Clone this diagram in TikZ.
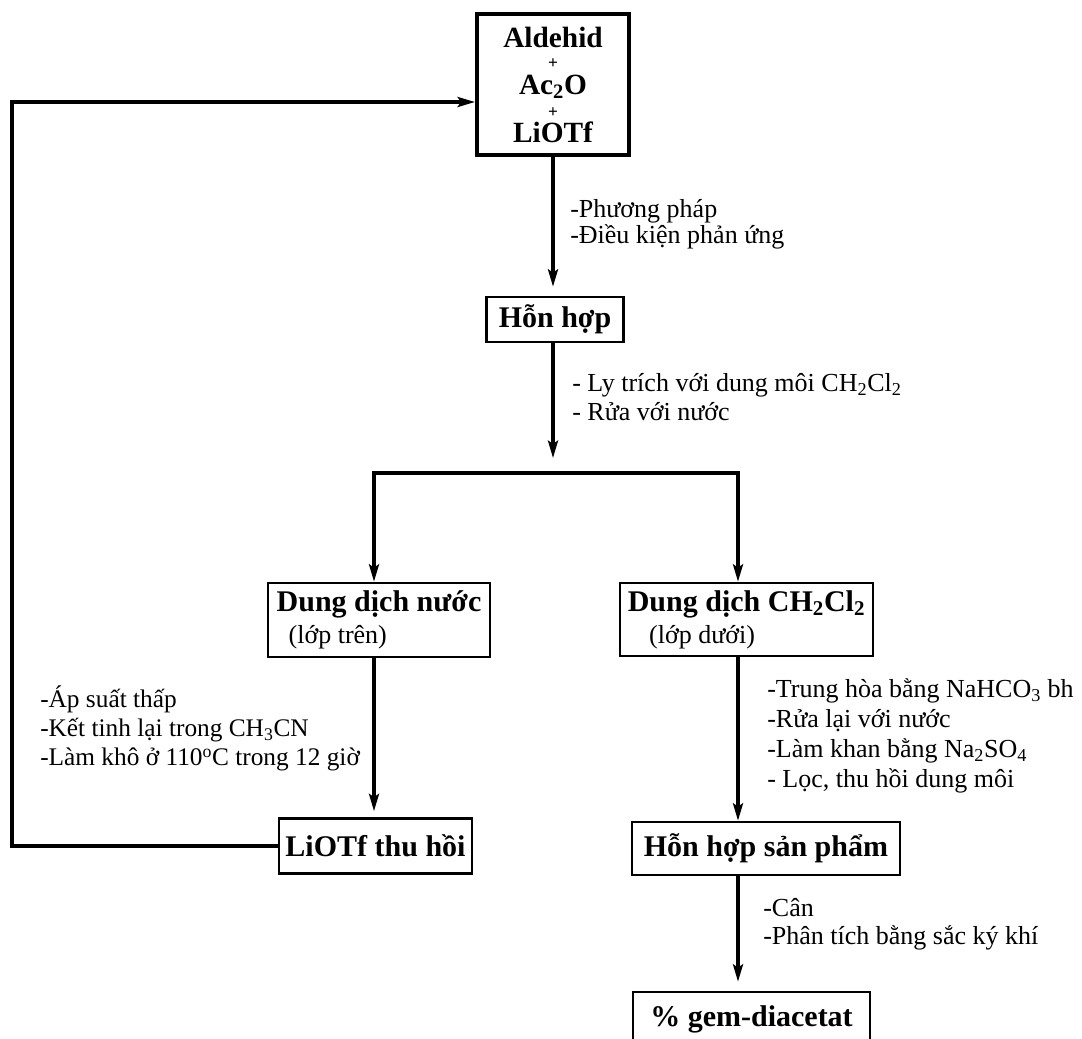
\documentclass[tikz,border=0pt]{standalone}
\usepackage{fontspec}
\setmainfont{Liberation Serif}
\usetikzlibrary{arrows.meta, positioning}

\newcommand\lstrut{\rule{0pt}{18pt}}
\newcommand\plusrow{{\fontsize{13}{17.6}\selectfont +}}

\begin{document}
\begin{tikzpicture}[
  x=0.75pt, y=-0.75pt,
  box/.style={draw, line width=2pt, inner sep=0pt, align=center,
              font=\fontsize{22.5}{24}\selectfont\bfseries},
  note/.style={inner sep=0pt, anchor=north west, align=left,
               font=\fontsize{19.5}{22}\selectfont},
  arr/.style={-{Stealth[length=13pt, width=7.5pt, inset=2.5pt]}, line width=2.4pt},
  >=Stealth,
]
  \useasboundingbox (0,0) rectangle (1082,1039);

  % boxes
  \node[box, line width=3pt, minimum width=114pt, minimum height=105.75pt,
        font=\fontsize{22}{17.2}\selectfont\bfseries] (top) at (553,84.5)
    {Aldehid\\[-1pt]\plusrow\\[2pt]Ac\textsubscript{2}O\\\plusrow\\[1.5pt]LiOTf};
  \node[box, minimum width=102.75pt, minimum height=33.75pt] (mix) at (555,319.5) {Hỗn hợp};
  \node[box, align=left, minimum width=166.5pt, minimum height=55.5pt,
        font=\fontsize{19.5}{24}\selectfont] (aq) at (379,620)
    {{\fontsize{22.5}{24}\selectfont\bfseries Dung dịch nước}\\\hspace*{9pt}(lớp trên)};
  \node[box, align=left, minimum width=189.75pt, minimum height=54.75pt,
        font=\fontsize{19.5}{24}\selectfont] (org) at (746.5,619.5)
    {{\fontsize{22.5}{24}\selectfont\bfseries Dung dịch CH\textsubscript{2}Cl\textsubscript{2}}\\\hspace*{16pt}(lớp dưới)};
  \node[box, minimum width=144.75pt, minimum height=41.25pt] (rec) at (375.5,846) {LiOTf thu hồi};
  \node[box, minimum width=201pt, minimum height=39.75pt] (prod) at (766,848.5) {Hỗn hợp sản phẩm};
  \node[box, minimum width=177.75pt, minimum height=41.25pt] (gem) at (751.5,1019.5) {\% gem-diacetat};

  % junctions
  \coordinate (split) at (553,473);
  \coordinate (jl) at (374,473);
  \coordinate (jr) at (738,473);
  \coordinate (lft) at (12,102);

  % connectors
  \draw[arr, shorten >=6.75pt] (top.south -| split) -- (mix.north -| split);
  \draw[arr, shorten >=11.25pt] (mix.south -| split) -- (split);
  \draw[line width=2.4pt] (jl) -- (jr);
  \draw[arr] ([yshift=1.2pt]jl) -- (jl |- aq.north);
  \draw[arr] ([yshift=1.2pt]jr) -- (jr |- org.north);
  \draw[arr, shorten >=4.5pt] (jl |- aq.south) -- (jl |- rec.north);
  \draw[arr] (jr |- org.south) -- (jr |- prod.north);
  \draw[arr, shorten >=6.75pt] (jr |- prod.south) -- (jr |- gem.north);
  \draw[arr] (rec.west) -| (lft) -- (lft -| top.west);

  % step notes
  \node[note, font=\fontsize{19.5}{19.5}\selectfont] (n1) at (570,193)
    {\lstrut-Phương pháp\\-Điều kiện phản ứng};
  \node[note] (n2) at (572,367)
    {\lstrut- Ly trích với dung môi CH\textsubscript{2}Cl\textsubscript{2}\\- Rửa với nước};
  \node[note, font=\fontsize{19}{22}\selectfont] (n3) at (40,683)
    {\lstrut-Áp suất thấp\\-Kết tinh lại trong CH\textsubscript{3}CN\\-Làm khô ở 110\textsuperscript{o}C trong 12 giờ};
  \node[note, font=\fontsize{19.5}{22.5}\selectfont] (n4) at (767,673)
    {\lstrut-Trung hòa bằng NaHCO\textsubscript{3} bh\\-Rửa lại với nước\\-Làm khan bằng Na\textsubscript{2}SO\textsubscript{4}\\- Lọc, thu hồi dung môi};
  \node[note, font=\fontsize{19.5}{21}\selectfont] (n5) at (763,892)
    {\lstrut-Cân\\-Phân tích bằng sắc ký khí};
\end{tikzpicture}
\end{document}
